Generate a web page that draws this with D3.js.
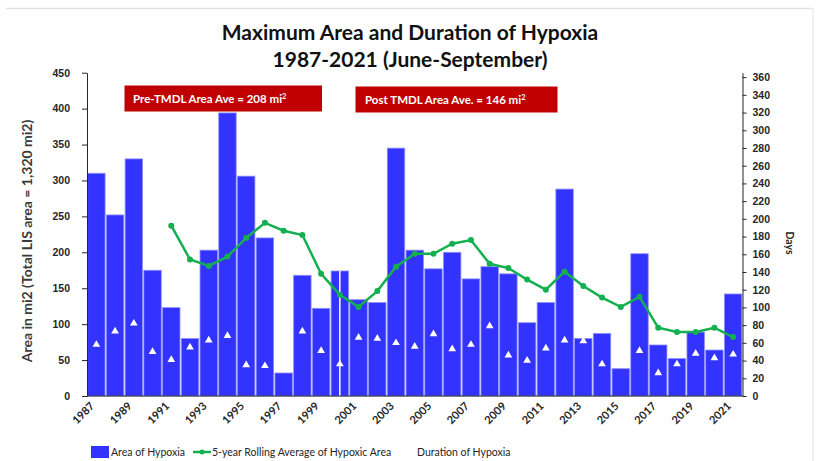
<!DOCTYPE html>
<meta charset="utf-8">
<head>
<style>
  body { margin: 0; background: #fff; }
  svg { font-family: Lato, "Open Sans", sans-serif; }
  .axis text { font-size: 10.5px; font-weight: bold; fill: #262626; }
  .axis path, .axis line { stroke: #262626; }
</style>
</head>
<body>
<svg id="chart" width="817" height="461"></svg>
<script src="https://d3js.org/d3.v7.min.js"></script>
<script>

// data
var years = d3.range(1987, 2022);
var area = [310, 252, 330, 175, 123, 80, 203, 394, 306, 220, 32, 168, 122, 174,
            134, 130, 345, 203, 177, 200, 163, 180, 170, 102, 130, 288, 80, 87,
            38, 198, 71, 52, 89, 64, 142];
var rollingYears = d3.range(1991, 2022);
var rolling = [237, 190, 181, 194, 220, 241, 230, 224, 170, 141, 124, 146, 180, 198,
               198, 212, 217, 184, 178, 162, 148, 173, 153, 137, 124, 138, 95, 89,
               89, 95, 82];
var duration = [58, 73, 82, 50, 41, 55, 63, 68, 35, 34, 45, 73, 51, 36, 66, 65, 60,
                56, 70, 53, 58, 79, 46, 40, 54, 63, 62, 36, 45, 51, 26, 36, 48, 43, 47];
var leftTicks = d3.range(0, 451, 50);
var rightTicks = d3.range(0, 361, 20);
var labelYears = years.filter(function(d) { return d % 2 === 1; });
var tmdlYear = 2000;

var svg = d3.select("#chart");

// faint frame
svg.append("line").attr("x1", 6).attr("x2", 813).attr("y1", 8.5).attr("y2", 8.5)
   .attr("stroke", "#e3e3e3").attr("stroke-width", 1.5);
svg.append("line").attr("x1", 813).attr("x2", 813).attr("y1", 8).attr("y2", 461)
   .attr("stroke", "#ececec").attr("stroke-width", 1.5);

var x = d3.scaleBand().domain(years).range([87, 742.5])
          .paddingInner(0.07).paddingOuter(0.035);
var y = d3.scaleLinear().domain([0, 450]).range([396, 72.7]);
var y2 = d3.scaleLinear().domain([0, 365]).range([396, 72.7]);

// bars
svg.selectAll(".bar")
    .data(years)
  .enter().append("rect")
    .attr("class", "bar")
    .attr("x", function(d) { return x(d); })
    .attr("width", x.bandwidth())
    .attr("y", function(d, i) { return y(area[i]); })
    .attr("height", function(d, i) { return y(0) - y(area[i]); })
    .attr("fill", "#3333ff")
    .attr("stroke", "#8c8cff")
    .attr("stroke-width", 0.8);

// white split line in the TMDL year
var ti = years.indexOf(tmdlYear);
svg.append("line")
    .attr("x1", x(tmdlYear) + x.bandwidth() / 2).attr("x2", x(tmdlYear) + x.bandwidth() / 2)
    .attr("y1", y(0)).attr("y2", y(area[ti]))
    .attr("stroke", "#fff").attr("stroke-width", 1.5);

// duration triangles
svg.selectAll(".tri")
    .data(years)
  .enter().append("path")
    .attr("class", "tri")
    .attr("d", d3.symbol().type(d3.symbolTriangle).size(26))
    .attr("transform", function(d, i) {
      return "translate(" + (x(d) + x.bandwidth() / 2) + "," + y2(duration[i]) + ")";
    })
    .attr("fill", "#fff");

// rolling average
var line = d3.line()
    .x(function(d, i) { return x(rollingYears[i]) + x.bandwidth() / 2; })
    .y(function(d) { return y(d); });
svg.append("path")
    .datum(rolling)
    .attr("d", line)
    .attr("fill", "none")
    .attr("stroke", "#14b050")
    .attr("stroke-width", 2.5);
svg.selectAll(".dot")
    .data(rolling)
  .enter().append("circle")
    .attr("cx", function(d, i) { return x(rollingYears[i]) + x.bandwidth() / 2; })
    .attr("cy", function(d) { return y(d); })
    .attr("r", 3)
    .attr("fill", "#14b050");

// axes
svg.append("g")
    .attr("class", "axis")
    .attr("transform", "translate(87,0)")
    .call(d3.axisLeft(y).tickValues(leftTicks).tickSize(5).tickPadding(12).tickSizeOuter(0));
svg.append("g")
    .attr("class", "axis")
    .attr("transform", "translate(742.5,0)")
    .call(d3.axisRight(y2).tickValues(rightTicks).tickSize(4).tickPadding(6).tickSizeOuter(0));
svg.append("line")
    .attr("x1", 87).attr("x2", 742.5).attr("y1", 396).attr("y2", 396)
    .attr("stroke", "#262626");

var xAxis = svg.append("g").attr("class", "axis");
xAxis.selectAll("text")
    .data(labelYears)
  .enter().append("text")
    .attr("transform", function(d) {
      return "translate(" + (x(d) + x.bandwidth() / 2 - 4) + ",404) rotate(-45)";
    })
    .attr("text-anchor", "end")
    .attr("dy", "0.35em")
    .style("font-size", "11px")
    .text(function(d) { return d; });

// axis titles
svg.append("text")
    .attr("transform", "translate(32,241) rotate(-90)")
    .attr("text-anchor", "middle")
    .style("font-size", "14px").style("font-weight", "bold").style("fill", "#3a3a3a")
    .text("Area in mi2 (Total LIS area = 1,320 mi2)");
svg.append("text")
    .attr("transform", "translate(786,243) rotate(90)")
    .attr("text-anchor", "middle")
    .style("font-size", "10.5px").style("font-weight", "bold").style("fill", "#262626")
    .text("Days");

// title
svg.append("text")
    .attr("x", 410).attr("y", 40)
    .attr("text-anchor", "middle")
    .style("font-size", "21px").style("font-weight", "bold").style("fill", "#111")
    .text("Maximum Area and Duration of Hypoxia");
svg.append("text")
    .attr("x", 410).attr("y", 67)
    .attr("text-anchor", "middle")
    .style("font-size", "21px").style("font-weight", "bold").style("fill", "#111")
    .text("1987-2021 (June-September)");

// annotation boxes
var notes = [
  {x: 124.5, y: 85.5, w: 197.5, h: 26, tx: 133, label: "Pre-TMDL Area Ave = 208 mi"},
  {x: 355.5, y: 86.5, w: 202, h: 26, tx: 365, label: "Post TMDL Area Ave. = 146 mi"}
];
notes.forEach(function(n) {
  svg.append("rect").attr("x", n.x).attr("y", n.y).attr("width", n.w).attr("height", n.h)
     .attr("fill", "#c00000");
  var t = svg.append("text").attr("x", n.tx).attr("y", n.y + 17)
     .style("font-size", "11.5px").style("font-weight", "bold").style("fill", "#fff")
     .text(n.label);
  t.append("tspan").attr("dy", -4).style("font-size", "7.5px").text("2");
});

// legend
var lg = svg.append("g").style("font-size", "10.5px").style("fill", "#262626");
lg.append("rect").attr("x", 91).attr("y", 446).attr("width", 18).attr("height", 12).attr("fill", "#3333ff");
lg.append("text").attr("x", 111).attr("y", 456).text("Area of Hypoxia");
lg.append("line").attr("x1", 193).attr("x2", 211).attr("y1", 452).attr("y2", 452)
  .attr("stroke", "#14b050").attr("stroke-width", 2.5);
lg.append("circle").attr("cx", 202).attr("cy", 452).attr("r", 2.5).attr("fill", "#14b050");
lg.append("text").attr("x", 212).attr("y", 456).text("5-year Rolling Average of Hypoxic Area");
lg.append("text").attr("x", 417).attr("y", 456).text("Duration of Hypoxia");

</script>
</body>
